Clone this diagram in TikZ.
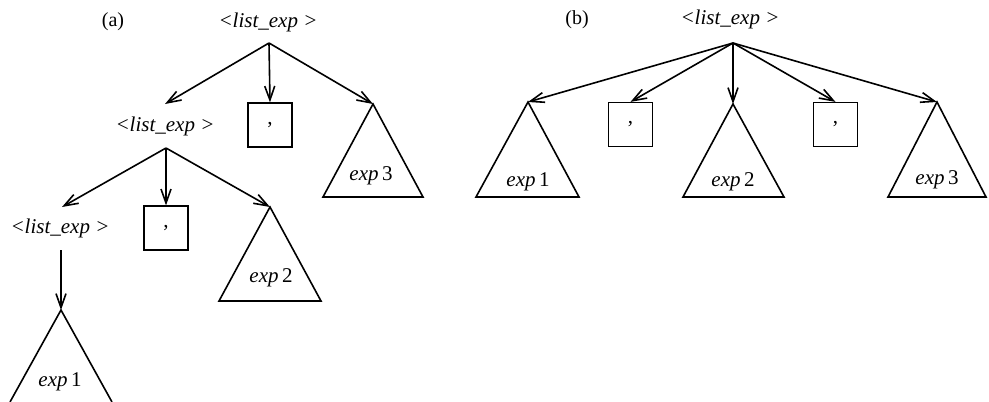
\documentclass[tikz,border=0pt]{standalone}
\usepackage{fontspec}
\setmainfont{Liberation Serif}
\usetikzlibrary{arrows.meta}
\begin{document}
\begin{tikzpicture}[x=1pt,y=-1pt,
  lbl/.style={font=\fontsize{21}{24}\selectfont\itshape, inner sep=0pt},
  tag/.style={font=\fontsize{20}{24}\selectfont, inner sep=0pt},
  sepbox/.style={draw, line width=1.2pt, minimum width=44pt, minimum height=44pt,
                 inner sep=0pt, font=\fontsize{21}{24}\selectfont},
  tri/.style={line width=1.6pt, line join=miter},
  edge/.style={line width=1.6pt, -{Straight Barb[length=14pt,width=10pt]}},
]
\useasboundingbox (0,0) rectangle (989,402);

% ---------------- (a) nested left-recursive tree ----------------
\node[tag] (ta) at (113,22) {(a)};

\node[lbl] (la1) at (268,22) {<list\_exp >};
\coordinate (ja1) at (269,43);
\node[lbl] (la2) at (165,126) {<list\_exp >};
\coordinate (ja2) at (166,148);
\node[lbl] (la3) at (60,228) {<list\_exp >};
\coordinate (ja3) at (61,250);

\node[sepbox] (ca1) at (270,125) {,};
\node[sepbox] (ca2) at (166,228) {,};

% exp 3
\coordinate (a3) at (373,104);
\draw[tri] (a3) -- (323,197) -- (423,197) -- cycle;
\node[lbl] (ea3) at (371,176) {exp\,\upshape 3};
% exp 2
\coordinate (a2) at (270,207);
\draw[tri] (a2) -- (219,301) -- (321,301) -- cycle;
\node[lbl] (ea2) at (271,278) {exp\,\upshape 2};
% exp 1 (runs off the bottom)
\coordinate (a1) at (61,310);
\draw[tri] (10,402) -- (a1) -- (112,402);
\node[lbl] (ea1) at (60,382) {exp\,\upshape 1};

\draw[edge] (ja1) -- (165,104) coordinate (la2top);
\draw[edge] (ja1) -- (ca1.north);
\draw[edge] (ja1) -- (a3);
\draw[edge] (ja2) -- (62,207) coordinate (la3top);
\draw[edge] (ja2) -- (ca2.north);
\draw[edge] (ja2) -- (a2);
\draw[edge] (ja3) -- (a1);

% ---------------- (b) flat tree ----------------
\node[tag] (tb) at (577,20) {(b)};

\node[lbl] (lb) at (730,19) {<list\_exp >};
\coordinate (jb) at (733,43);

\node[sepbox] (cb1) at (630.5,124.5) {,};
\node[sepbox] (cb2) at (835.5,124.5) {,};

\coordinate (b1) at (528,102);
\draw[tri] (b1) -- (476,197) -- (579,197) -- cycle;
\node[lbl] (eb1) at (528,182) {exp\,\upshape 1};

\coordinate (b2) at (733,104);
\draw[tri] (b2) -- (683,197) -- (784,197) -- cycle;
\node[lbl] (eb2) at (733,182) {exp\,\upshape 2};

\coordinate (b3) at (937,102);
\draw[tri] (b3) -- (888,197) -- (986,197) -- cycle;
\node[lbl] (eb3) at (937,180) {exp\,\upshape 3};

\draw[edge] (jb) -- (b1);
\draw[edge] (jb) -- (cb1.north);
\draw[edge] (jb) -- (b2);
\draw[edge] (jb) -- (cb2.north);
\draw[edge] (jb) -- (b3);
\end{tikzpicture}
\end{document}
